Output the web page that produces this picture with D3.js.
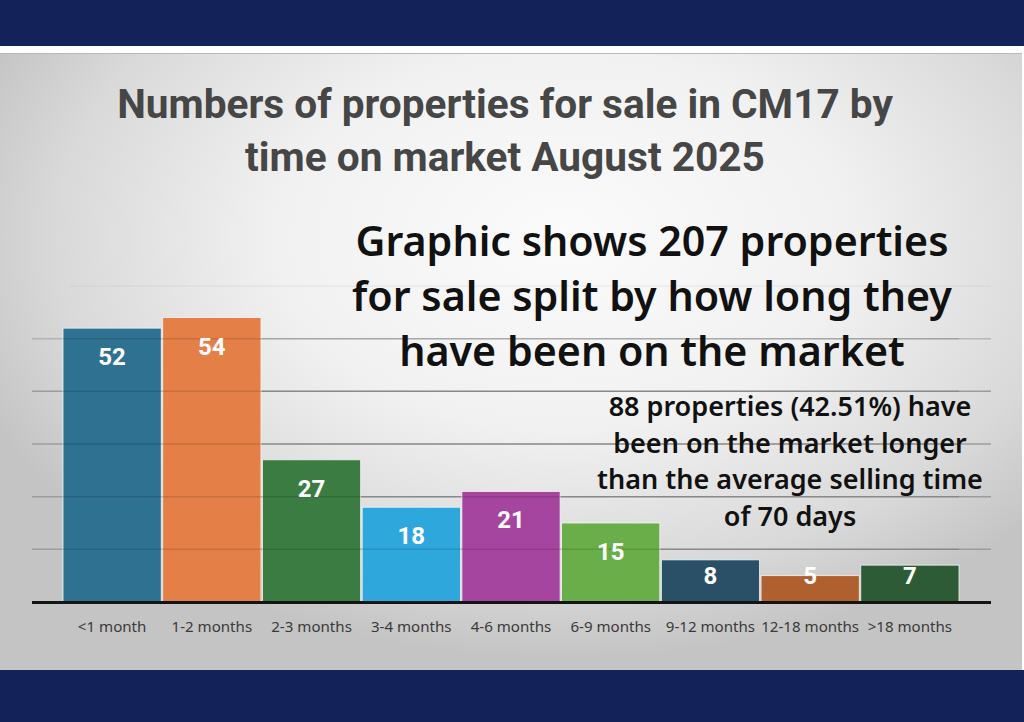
<!DOCTYPE html>
<meta charset="utf-8">
<style>
  body { margin: 0; background: #ffffff; }
  svg { display: block; }
  .grid line { stroke: #9c9c9c; stroke-width: 1.5px; }
  .grid-over line { stroke: #000; stroke-opacity: 0.12; stroke-width: 1.5px; }
  .cat { font-family: "Noto Sans", sans-serif; fill: #3a3a3a; }
  .val { font-family: Roboto, sans-serif; font-weight: 700; fill: #ffffff; }
  .title { font-family: Roboto, sans-serif; font-weight: 700; fill: #464646; }
  .note { font-family: "Noto Sans", sans-serif; font-weight: 600; fill: #111111; }
</style>
<body>
<div id="chart"></div>
<script src="https://d3js.org/d3.v7.min.js"></script>
<script>
  var categories = ["<1 month", "1-2 months", "2-3 months", "3-4 months", "4-6 months",
                    "6-9 months", "9-12 months", "12-18 months", ">18 months"];
  var counts = [52, 54, 27, 18, 21, 15, 8, 5, 7];
  var barColors = ["#2f7190", "#e37f47", "#3b7c42", "#2ea7dc", "#a6459f",
                   "#6aae4a", "#2a5068", "#b0602e", "#2c5b36"];
  var gridTicks = [10, 20, 30, 40, 50, 60];
  var titleLines = ["Numbers of properties for sale in CM17 by", "time on market August 2025"];
  var noteLines = ["Graphic shows 207 properties", "for sale split by how long they", "have been on the market"];
  var subNoteLines = ["88 properties (42.51%) have", "been on the market longer",
                      "than the average selling time", "of 70 days"];

  var width = 1024, height = 722;
  var baseY = 602;

  var svg = d3.select("#chart").append("svg")
    .attr("width", width)
    .attr("height", height);

  // background panel
  var defs = svg.append("defs");
  var grad = defs.append("radialGradient")
    .attr("id", "panelGrad")
    .attr("cx", "0.55").attr("cy", "0.3")
    .attr("r", "0.62")
    .attr("gradientTransform", "translate(0.55,0.3) scale(1,1.1) translate(-0.55,-0.3)");
  grad.append("stop").attr("offset", "0%").attr("stop-color", "#fbfbfb");
  grad.append("stop").attr("offset", "45%").attr("stop-color", "#f1f1f1");
  grad.append("stop").attr("offset", "80%").attr("stop-color", "#d9d9d9");
  grad.append("stop").attr("offset", "100%").attr("stop-color", "#c4c4c4");

  svg.append("rect").attr("x", 0).attr("y", 0).attr("width", width).attr("height", 46).attr("fill", "#13235a");
  svg.append("rect").attr("x", 0).attr("y", 53).attr("width", 1022).attr("height", 617).attr("fill", "url(#panelGrad)");
  svg.append("line").attr("x1", 0).attr("x2", 1022).attr("y1", 53.5).attr("y2", 53.5)
    .attr("stroke", "#b9b9b9").attr("stroke-width", 1);
  svg.append("rect").attr("x", 0).attr("y", 670).attr("width", width).attr("height", 52).attr("fill", "#13235a");

  var x = d3.scaleBand()
    .domain(categories)
    .range([63, 959])
    .paddingInner(0.015)
    .paddingOuter(0);

  var y = d3.scaleLinear()
    .domain([0, 60])
    .range([baseY, 286]);

  // gridlines behind bars
  svg.append("g").attr("class", "grid")
    .selectAll("line").data(gridTicks).join("line")
    .attr("x1", function(d) { return d === 60 ? 70 : 32; })
    .attr("x2", 991)
    .attr("y1", function(d) { return y(d); })
    .attr("y2", function(d) { return y(d); })
    .style("stroke-opacity", function(d) { return d === 60 ? 0.12 : (d === 50 ? 0.6 : 1); });

  svg.append("g").selectAll("rect").data(counts).join("rect")
    .attr("x", function(d, i) { return x(categories[i]); })
    .attr("y", function(d) { return y(d); })
    .attr("width", x.bandwidth())
    .attr("height", function(d) { return baseY - y(d); })
    .attr("fill", function(d, i) { return barColors[i]; })
    .attr("stroke", "#f4f4f4")
    .attr("stroke-width", 0.8);

  // faint gridlines over bars
  svg.append("g").attr("class", "grid-over")
    .selectAll("line").data(gridTicks.filter(function(d) { return d < 60; })).join("line")
    .attr("x1", 63).attr("x2", 959)
    .attr("y1", function(d) { return y(d); })
    .attr("y2", function(d) { return y(d); });

  // baseline
  svg.append("line")
    .attr("x1", 32).attr("x2", 991)
    .attr("y1", baseY + 0.5).attr("y2", baseY + 0.5)
    .attr("stroke", "#141414").attr("stroke-width", 3);

  // value labels
  svg.append("g").selectAll("text").data(counts).join("text")
    .attr("class", "val")
    .attr("x", function(d, i) { return x(categories[i]) + x.bandwidth() / 2; })
    .attr("y", function(d) { return Math.min(y(d) + 37, baseY - 18); })
    .attr("text-anchor", "middle")
    .style("font-size", "24px")
    .text(function(d) { return d; });

  // category labels
  var cats = svg.append("g").selectAll("text").data(categories).join("text")
    .attr("class", "cat")
    .attr("x", function(d) { return x(d) + x.bandwidth() / 2; })
    .attr("y", 632)
    .attr("text-anchor", "middle")
    .style("font-size", "15px")
    .text(function(d) { return d; });
  fitBlock(cats, 7, 98);

  function drawLines(lines, cls, cx, y0, step) {
    return svg.append("g").selectAll("text").data(lines).join("text")
      .attr("class", cls)
      .attr("x", cx)
      .attr("y", function(d, i) { return y0 + i * step; })
      .attr("text-anchor", "middle")
      .style("font-size", "40px")
      .text(function(d) { return d; });
  }

  // scale font size of a block so line idx gets the target width
  function fitBlock(sel, idx, target) {
    var node = sel.nodes()[idx];
    var fs = parseFloat(node.style.fontSize);
    var w = node.getComputedTextLength();
    sel.style("font-size", (fs * target / w) + "px");
  }

  var t = drawLines(titleLines, "title", 505, 118, 53);
  fitBlock(t, 0, 776);

  var n = drawLines(noteLines, "note", 652, 256, 55);
  fitBlock(n, 1, 600);

  var s = drawLines(subNoteLines, "note", 790, 416, 36.5);
  fitBlock(s, 2, 386);
</script>
</body>
</html>
